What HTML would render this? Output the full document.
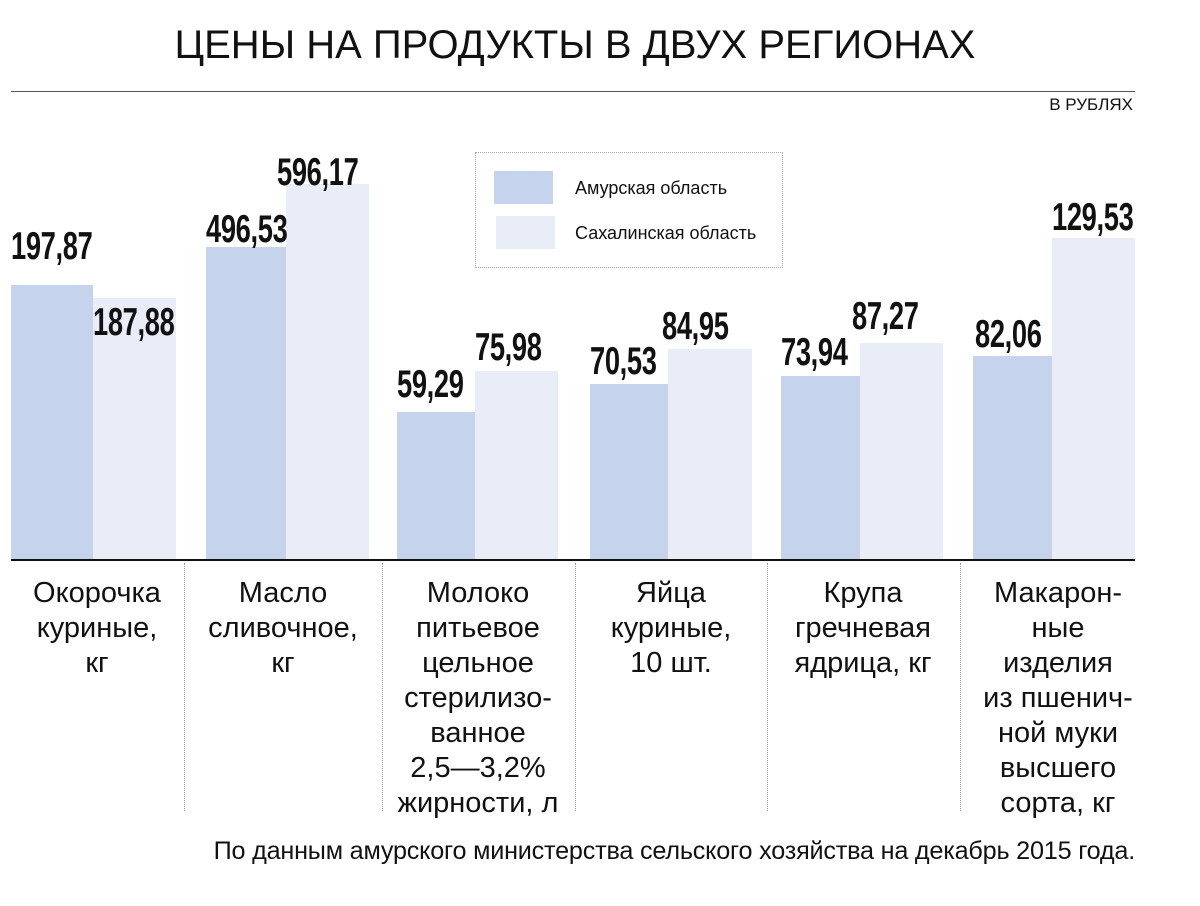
<!DOCTYPE html>
<html><head><meta charset="utf-8"><style>
body{margin:0;width:1200px;height:906px;background:#fff;position:relative;overflow:hidden;font-family:"Liberation Sans","DejaVu Sans",sans-serif;color:#111}
.a{position:absolute}
.b{position:absolute;bottom:346px}
.d{background:#c5d3ec}.l{background:#e9edf8}
.v{position:absolute;font-weight:bold;font-size:39px;line-height:39px;transform:scaleX(0.7);transform-origin:0 0;white-space:nowrap;letter-spacing:-0.5px}
.c{position:absolute;top:576px;font-size:29px;line-height:35px;text-align:center;width:200px;letter-spacing:0px}
.s{position:absolute;top:563px;height:248px;border-left:1px dotted #999}
</style></head><body>
<div class="a" style="left:0;width:1150px;top:23px;text-align:center;font-size:40px;letter-spacing:0px">ЦЕНЫ НА ПРОДУКТЫ В ДВУХ РЕГИОНАХ</div>
<div class="a" style="left:11px;width:1124px;top:91px;height:1px;background:#555"></div>
<div class="a" style="right:67px;top:95px;font-size:17px">В РУБЛЯХ</div>

<div class="b d" style="left:11px;width:82px;top:285px"></div>
<div class="b l" style="left:93px;width:83px;top:298px"></div>
<div class="b d" style="left:206px;width:80px;top:247px"></div>
<div class="b l" style="left:286px;width:83px;top:184px"></div>
<div class="b d" style="left:397px;width:78px;top:412px"></div>
<div class="b l" style="left:475px;width:83px;top:371px"></div>
<div class="b d" style="left:590px;width:78px;top:384px"></div>
<div class="b l" style="left:668px;width:84px;top:349px"></div>
<div class="b d" style="left:781px;width:79px;top:376px"></div>
<div class="b l" style="left:860px;width:83px;top:343px"></div>
<div class="b d" style="left:973px;width:79px;top:356px"></div>
<div class="b l" style="left:1052px;width:83px;top:238px"></div>

<div class="a" style="left:11px;width:1124px;top:559px;height:2px;background:#111"></div>

<div class="v" style="left:11px;top:227px">197,87</div>
<div class="v" style="left:93px;top:303px">187,88</div>
<div class="v" style="left:206px;top:210px">496,53</div>
<div class="v" style="left:277px;top:153px">596,17</div>
<div class="v" style="left:397px;top:365px">59,29</div>
<div class="v" style="left:475px;top:328px">75,98</div>
<div class="v" style="left:590px;top:342px">70,53</div>
<div class="v" style="left:662px;top:307px">84,95</div>
<div class="v" style="left:781px;top:333px">73,94</div>
<div class="v" style="left:852px;top:297px">87,27</div>
<div class="v" style="left:975px;top:315px">82,06</div>
<div class="v" style="left:1052px;top:198px">129,53</div>

<div class="a" style="left:475px;top:152px;width:306px;height:114px;border:1px dotted #aaa"></div>
<div class="a d" style="left:494px;top:171px;width:59px;height:33px"></div>
<div class="a l" style="left:496px;top:216px;width:59px;height:33px"></div>
<div class="a" style="left:575px;top:178px;font-size:18px">Амурская область</div>
<div class="a" style="left:575px;top:223px;font-size:18px">Сахалинская область</div>

<div class="s" style="left:184px"></div>
<div class="s" style="left:382px"></div>
<div class="s" style="left:575px"></div>
<div class="s" style="left:767px"></div>
<div class="s" style="left:960px"></div>

<div class="c" style="left:-3px">Окорочка<br>куриные,<br>кг</div>
<div class="c" style="left:183px">Масло<br>сливочное,<br>кг</div>
<div class="c" style="left:378px">Молоко<br>питьевое<br>цельное<br>стерилизо-<br>ванное<br>2,5—3,2%<br>жирности, л</div>
<div class="c" style="left:571px">Яйца<br>куриные,<br>10 шт.</div>
<div class="c" style="left:763px">Крупа<br>гречневая<br>ядрица, кг</div>
<div class="c" style="left:958px">Макарон-<br>ные<br>изделия<br>из пшенич-<br>ной муки<br>высшего<br>сорта, кг</div>

<div class="a" style="right:65px;top:837px;font-size:25.2px;letter-spacing:-0.2px">По данным амурского министерства сельского хозяйства на декабрь 2015 года.</div>
</body></html>
